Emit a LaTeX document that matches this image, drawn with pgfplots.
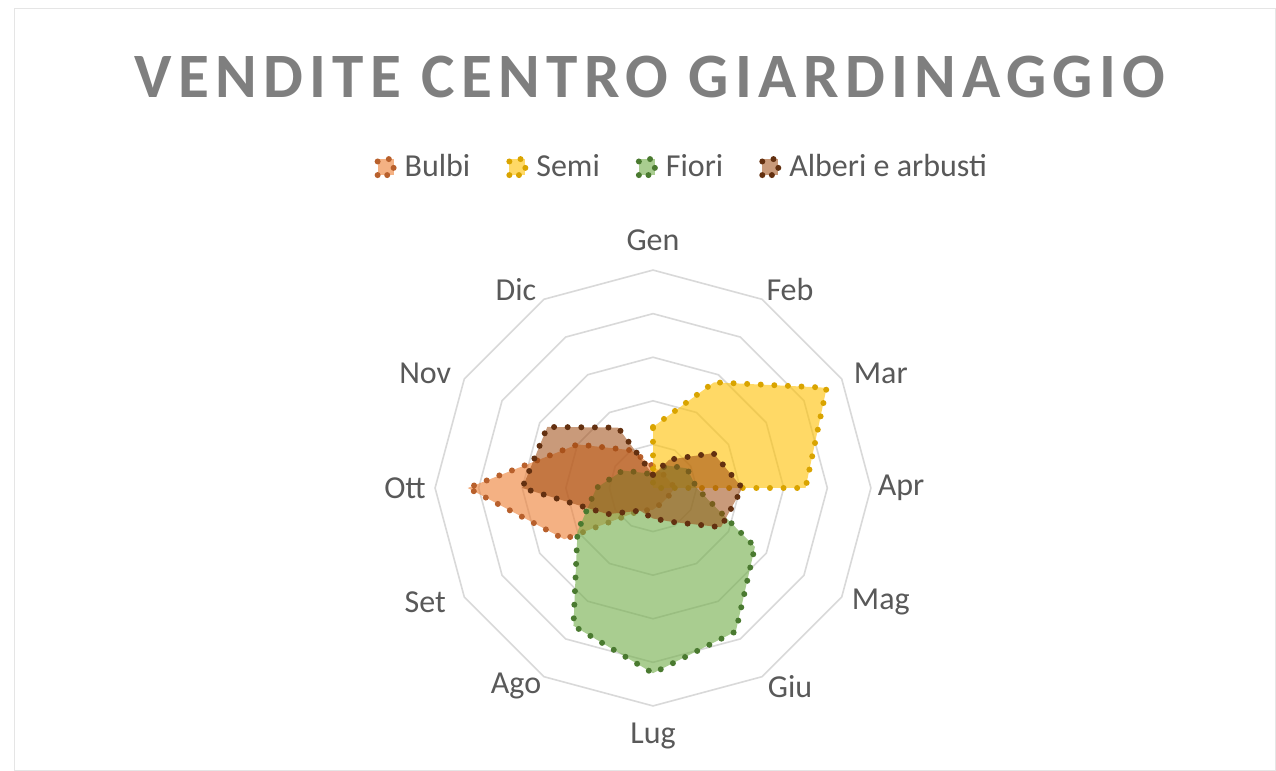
\documentclass[border=0pt]{standalone}
\usepackage{fontspec}
\setmainfont{Carlito}
\newfontfamily\titlefont[LetterSpace=10]{Carlito}
\usepackage{pgfplots}
\pgfplotsset{compat=1.18}
\usepgfplotslibrary{polar}

\definecolor{bulbi}{HTML}{ED7D31}
\definecolor{bulbidot}{HTML}{B8602C}
\definecolor{semi}{HTML}{FFC000}
\definecolor{semidot}{HTML}{D9A400}
\definecolor{fiori}{HTML}{70AD47}
\definecolor{fioridot}{HTML}{4A7A30}
\definecolor{alberi}{HTML}{9E480E}
\definecolor{alberidot}{HTML}{633010}
\definecolor{ringgray}{HTML}{D9D9D9}
\definecolor{labelgray}{HTML}{595959}
\definecolor{titlegray}{HTML}{7F7F7F}

\tikzset{radar/.style={line width=3pt, dash pattern=on 0pt off 6.8pt,
  line cap=round, line join=round, fill opacity=0.6}}

\begin{document}
\begin{tikzpicture}
\path[use as bounding box, fill=white] (0,0) rectangle (638pt,385.5pt);
\draw[black!10] (7pt,0.5pt) rectangle (637.5pt,381.5pt);
\begin{polaraxis}[
  at={(326.5pt,141.5pt)}, anchor=center,
  scale only axis, width=248pt, height=248pt,
  ymin=0, ymax=5.69,
  xtick={0,30,...,330},
  xticklabels={Apr,Mar,Feb,Gen,Dic,Nov,Ott,Set,Ago,Lug,Giu,Mag},
  xticklabel style={anchor=center, font=\fontsize{16pt}{18pt}\selectfont, text=labelgray,
    xshift={15*abs(sin(\tick))*cos(\tick)*1pt},
    yshift={-11*sin(\tick)*abs(sin(2*\tick))*1pt}},
  ytick=\empty,
  grid=none,
  major tick length=0pt,
  axis line style={draw=none},
  legend style={at={(axis description cs:0.56,1.147)}, anchor=center,
    draw=none, fill=none, legend columns=4,
    font=\fontsize{16pt}{18pt}\selectfont, text=labelgray,
    /tikz/every odd column/.append style={column sep=2pt},
    /tikz/every even column/.append style={column sep=16pt}},
  legend image code/.code={\draw[#1] (0pt,-4pt) rectangle (8pt,4pt);},
]
% rings
\addplot[ringgray, line width=0.8pt, forget plot] coordinates {(0,1)(30,1)(60,1)(90,1)(120,1)(150,1)(180,1)(210,1)(240,1)(270,1)(300,1)(330,1)(360,1)};
\addplot[ringgray, line width=0.8pt, forget plot] coordinates {(0,2)(30,2)(60,2)(90,2)(120,2)(150,2)(180,2)(210,2)(240,2)(270,2)(300,2)(330,2)(360,2)};
\addplot[ringgray, line width=0.8pt, forget plot] coordinates {(0,3)(30,3)(60,3)(90,3)(120,3)(150,3)(180,3)(210,3)(240,3)(270,3)(300,3)(330,3)(360,3)};
\addplot[ringgray, line width=0.8pt, forget plot] coordinates {(0,4)(30,4)(60,4)(90,4)(120,4)(150,4)(180,4)(210,4)(240,4)(270,4)(300,4)(330,4)(360,4)};
\addplot[ringgray, line width=0.8pt, forget plot] coordinates {(0,5)(30,5)(60,5)(90,5)(120,5)(150,5)(180,5)(210,5)(240,5)(270,5)(300,5)(330,5)(360,5)};

% Bulbi
\addplot[radar, draw=bulbidot, fill=bulbi] coordinates {
  (90,0.5) (60,0.4) (30,0.4) (0,0.5) (330,0.4) (300,0.4)
  (270,0.5) (240,0.6) (210,2.35) (180,4.25) (150,2.0) (120,1.0) (90,0.5)};
% Semi
\addplot[radar, draw=semidot, fill=semi] coordinates {
  (90,1.4) (60,2.8) (30,4.6) (0,3.5) (330,0) (300,0)
  (270,0) (240,0) (210,0) (180,0) (150,0) (120,0) (90,1.4)};
% Fiori
\addplot[radar, draw=fioridot, fill=fiori] coordinates {
  (90,0.3) (60,0.6) (30,0.9) (0,1.0) (330,2.7) (300,3.8)
  (270,4.25) (240,3.65) (210,2.0) (180,1.3) (150,0.8) (120,0.4) (90,0.3)};
% Alberi e arbusti
\addplot[radar, draw=alberidot, fill=alberi, fill opacity=0.55] coordinates {
  (90,0.3) (60,0.75) (30,1.6) (0,2.05) (330,1.8) (300,0.9)
  (270,0.7) (240,0.6) (210,1.2) (180,3.0) (150,2.8) (120,1.6) (90,0.3)};
\legend{Bulbi, Semi, Fiori, Alberi e arbusti}
\end{polaraxis}
\node[text=titlegray, font=\titlefont\bfseries\fontsize{31.6pt}{34pt}\selectfont]
  at (325pt,347pt) {VENDITE CENTRO GIARDINAGGIO};
\end{tikzpicture}
\end{document}
